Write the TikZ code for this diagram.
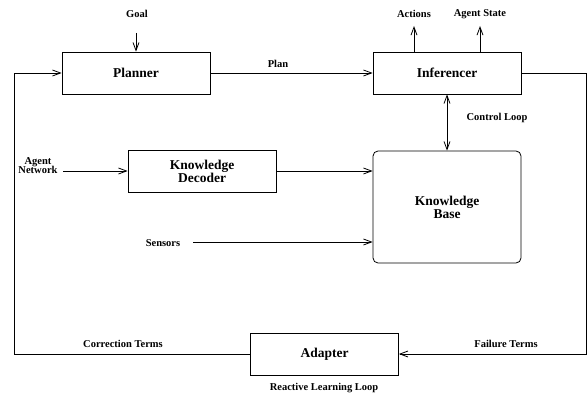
\documentclass[tikz,border=0pt]{standalone}
\usepackage{fontspec}
\setmainfont{Liberation Serif}
\usetikzlibrary{arrows.meta}
\begin{document}
\begin{tikzpicture}[x=1pt,y=-1pt,
  box/.style={draw,line width=0.8pt,minimum width=148pt,minimum height=42pt,
    font=\fontsize{13.5}{15}\selectfont\bfseries,align=center,inner sep=0pt},
  lbl/.style={font=\fontsize{10.5}{11}\selectfont\bfseries,inner sep=0pt,align=center},
  line/.style={line width=0.8pt},
  arr/.style={line width=0.8pt,-{Straight Barb[length=8pt,width=6pt,line width=0.8pt]}},
  arrb/.style={line width=0.8pt,{Straight Barb[length=8pt,width=6pt,line width=0.8pt]}-{Straight Barb[length=8pt,width=6pt,line width=0.8pt]}}
]
\useasboundingbox (0,0) rectangle (588,395);

\node[box] (planner) at (136,73) {Planner};
\node[box] (inf) at (447,73) {Inferencer};
\node[box] (dec) at (202,171) {Knowledge\\[-2pt]Decoder};
\node[box,minimum height=112pt,rounded corners=5pt] (kb) at (447,207) {Knowledge\\[-2pt]Base};
\node[box] (adapter) at (324.5,354) {Adapter};

\node[lbl] (goal) at (137,14) {Goal};
\node[lbl] (actions) at (414,14) {Actions};
\node[lbl] (astate) at (480,14) {Agent State};
\node[lbl] (plan) at (278,64) {Plan};
\node[lbl] (ctrl) at (497,118) {Control Loop};
\node[lbl] (agnet) at (38,166) {Agent\\[-2pt]Network};
\node[lbl] (sensors) at (163,243) {Sensors};
\node[lbl] (corr) at (123,344) {Correction Terms};
\node[lbl] (fail) at (506,344) {Failure Terms};
\node[lbl] (rll) at (324,388) {Reactive Learning Loop};

\coordinate (g0) at (136,33);
\coordinate (a1) at (414,26);
\coordinate (s1) at (480,26);
\coordinate (lc) at (14,354);
\coordinate (rc) at (586,73);
\coordinate (an) at (63,171);
\coordinate (s0) at (193,242);

\draw[arr] (g0) -- (planner.north);
\draw[arr] (inf.north -| a1) -- (a1);
\draw[arr] (inf.north -| s1) -- (s1);
\draw[arr] (planner.east) -- (inf.west);
\draw[arrb] (inf.south) -- (kb.north);
\draw[arr] (an) -- (dec.west);
\draw[arr] (dec.east) -- (dec.east -| kb.west);
\draw[arr] (s0) -- (s0 -| kb.west);
\draw[arr] (inf.east) -- (rc) |- (adapter.east);
\draw[arr] (adapter.west) -- (lc) |- (planner.west);
\end{tikzpicture}
\end{document}
